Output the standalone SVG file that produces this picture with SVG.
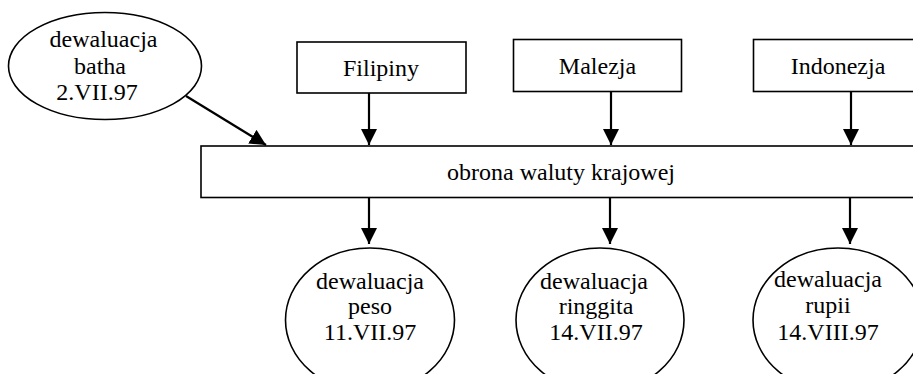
<svg xmlns="http://www.w3.org/2000/svg" width="913" height="374" viewBox="0 0 913 374">
<defs>
<style>
.shape{fill:#fff;stroke:#000;stroke-width:1.6}
.t{font-family:"Liberation Serif","Times New Roman",serif;font-size:24px;fill:#000;text-anchor:middle}
.c{stroke:#000;stroke-width:2.2;fill:none;marker-end:url(#ah)}
</style>
<marker id="ah" viewBox="0 0 16 16" refX="16" refY="8" markerWidth="16" markerHeight="16" markerUnits="userSpaceOnUse" orient="auto">
<path d="M0,0 L16,8 L0,16 z" fill="#000"/>
</marker>
</defs>
<rect width="913" height="374" fill="#fff"/>
<g id="batha">
<ellipse class="shape" cx="105" cy="66" rx="96.5" ry="53.5"/>
<text class="t" x="103.5" y="47">dewaluacja</text>
<text class="t" x="100" y="74">batha</text>
<text class="t" x="97" y="100">2.VII.97</text>
</g>
<g id="filipiny">
<rect class="shape" x="297" y="42" width="169" height="51"/>
<text class="t" x="381" y="76">Filipiny</text>
</g>
<g id="malezja">
<rect class="shape" x="513.5" y="39.5" width="168" height="52"/>
<text class="t" x="597.5" y="73.5">Malezja</text>
</g>
<g id="indonezja">
<rect class="shape" x="753.5" y="39.5" width="170" height="52"/>
<text class="t" x="838" y="73.5">Indonezja</text>
</g>
<g id="obrona">
<rect class="shape" x="201" y="146" width="725" height="51.5"/>
<text class="t" x="561" y="179.5">obrona waluty krajowej</text>
</g>
<g id="peso">
<ellipse class="shape" cx="370" cy="320" rx="84.5" ry="72"/>
<text class="t" x="370" y="288.5">dewaluacja</text>
<text class="t" x="370" y="314">peso</text>
<text class="t" x="370" y="340">11.VII.97</text>
</g>
<g id="ringgita">
<ellipse class="shape" cx="600" cy="320" rx="84" ry="72"/>
<text class="t" x="594" y="288.5">dewaluacja</text>
<text class="t" x="596" y="314">ringgita</text>
<text class="t" x="596" y="340">14.VII.97</text>
</g>
<g id="rupii">
<ellipse class="shape" cx="838" cy="320" rx="85" ry="72"/>
<text class="t" x="828" y="287">dewaluacja</text>
<text class="t" x="828" y="313">rupii</text>
<text class="t" x="828" y="340">14.VIII.97</text>
</g>
<g id="connectors">
<line class="c" x1="186" y1="96" x2="266" y2="145"/>
<line class="c" x1="369" y1="93" x2="369" y2="145"/>
<line class="c" x1="611" y1="92" x2="611" y2="145"/>
<line class="c" x1="851" y1="92" x2="851" y2="145"/>
<line class="c" x1="369" y1="198" x2="369" y2="244"/>
<line class="c" x1="610" y1="198" x2="610" y2="244"/>
<line class="c" x1="850" y1="198" x2="850" y2="244"/>
</g>
</svg>
